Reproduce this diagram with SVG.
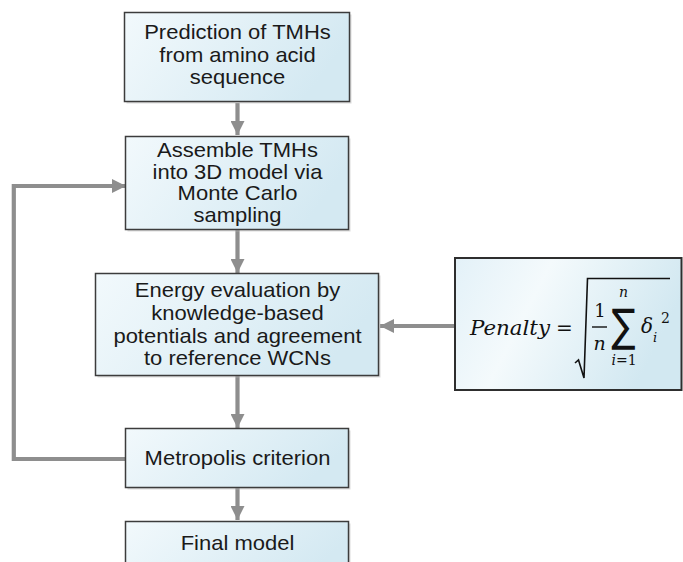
<svg xmlns="http://www.w3.org/2000/svg" width="683" height="562" viewBox="0 0 683 562">
<defs>
<linearGradient id="bf" x1="0" y1="0" x2="1" y2="0.3">
<stop offset="0" stop-color="#f2f9fc"/>
<stop offset="1" stop-color="#d4e9f2"/>
</linearGradient>
<linearGradient id="pf" x1="0" y1="0" x2="1" y2="0.3">
<stop offset="0" stop-color="#e3f1f8"/>
<stop offset="0.4" stop-color="#f4fafc"/>
<stop offset="1" stop-color="#d2e8f1"/>
</linearGradient>
<marker id="ah" viewBox="0 0 14 14" refX="14" refY="7" markerWidth="14" markerHeight="14" markerUnits="userSpaceOnUse" orient="auto">
<path d="M0,0 L14,7 L0,14 Z" fill="#8e8e8e"/>
</marker>
<style>
.box{fill:url(#bf);stroke:#3c3c3c;stroke-width:1.5}
.shadow{fill:#b8b8b8;opacity:0.5}
.lbl{font-family:"Liberation Sans",Arial,sans-serif;font-size:20px;fill:#1a1a1a;text-anchor:middle}
.conn{fill:none;stroke:#8e8e8e;stroke-width:4.2}
.m{font-family:"DejaVu Serif","Liberation Serif",serif;font-style:italic;fill:#111}
.mu{font-family:"DejaVu Serif","Liberation Serif",serif;fill:#111}
.sum{font-family:"DejaVu Sans",sans-serif;fill:#111;text-anchor:middle}
</style>
</defs>
<rect width="683" height="562" fill="#ffffff"/>
<g id="connectors">
<line class="conn" x1="237.5" y1="103" x2="237.5" y2="135" marker-end="url(#ah)"/>
<line class="conn" x1="237.5" y1="230" x2="237.5" y2="273" marker-end="url(#ah)"/>
<line class="conn" x1="237.5" y1="376" x2="237.5" y2="428" marker-end="url(#ah)"/>
<line class="conn" x1="237.5" y1="488" x2="237.5" y2="520" marker-end="url(#ah)"/>
<line class="conn" x1="455" y1="326" x2="380" y2="326" marker-end="url(#ah)"/>
<polyline class="conn" points="126,459 13.8,459 13.8,186 126,186" marker-end="url(#ah)"/>
</g>
<g id="node-prediction">
<rect class="shadow" x="126.5" y="14.5" width="225" height="89"/>
<rect class="box" x="124.5" y="12.5" width="225" height="89"/>
<text class="lbl" transform="translate(237.5 0) scale(1.1 1)"><tspan x="0" y="39.5">Prediction of TMHs</tspan><tspan x="0" y="62">from amino acid</tspan><tspan x="0" y="84.5">sequence</tspan></text>
</g>
<g id="node-assemble">
<rect class="shadow" x="127.5" y="138.5" width="223" height="93"/>
<rect class="box" x="125.5" y="136.5" width="223" height="93"/>
<text class="lbl" transform="translate(237.5 0) scale(1.1 1)"><tspan x="0" y="157.5">Assemble TMHs</tspan><tspan x="0" y="179">into 3D model via</tspan><tspan x="0" y="200.5">Monte Carlo</tspan><tspan x="0" y="222">sampling</tspan></text>
</g>
<g id="node-energy">
<rect class="shadow" x="97.5" y="275.5" width="283" height="102"/>
<rect class="box" x="95.5" y="273.5" width="283" height="102"/>
<text class="lbl" transform="translate(237.5 0) scale(1.1 1)"><tspan x="0" y="297.5">Energy evaluation by</tspan><tspan x="0" y="320.5">knowledge-based</tspan><tspan x="0" y="343">potentials and agreement</tspan><tspan x="0" y="365.5">to reference WCNs</tspan></text>
</g>
<g id="node-penalty">
<rect x="455" y="258" width="226.5" height="132" fill="url(#pf)" stroke="#2e2e2e" stroke-width="2"/>
<text class="m" x="470" y="335" font-size="20" textLength="80" lengthAdjust="spacingAndGlyphs">Penalty</text>
<text class="mu" x="556" y="335" font-size="20">=</text>
<polyline points="575,363 578.5,360 584,378 587.5,278.5 670,278.5" fill="none" stroke="#111" stroke-width="1.6" stroke-linejoin="miter"/>
<text class="mu" x="600" y="317" font-size="18" text-anchor="middle">1</text>
<line x1="592" y1="327" x2="607" y2="327" stroke="#111" stroke-width="1.4"/>
<text class="m" x="599.5" y="350" font-size="19" text-anchor="middle">n</text>
<text class="sum" font-size="45" transform="translate(623.5 340.5) scale(0.8 1)" x="0" y="0">∑</text>
<text class="m" x="623.5" y="296.5" font-size="14" text-anchor="middle">n</text>
<text x="624" y="365" font-size="14" text-anchor="middle"><tspan class="m">i</tspan><tspan class="mu">=1</tspan></text>
<text class="m" x="641" y="333" font-size="20">δ</text>
<text class="m" x="653" y="342" font-size="13">i</text>
<text class="mu" x="661" y="323" font-size="14">2</text>
</g>
<g id="node-metropolis">
<rect class="shadow" x="127.5" y="430.5" width="223" height="59"/>
<rect class="box" x="125.5" y="428.5" width="223" height="59"/>
<text class="lbl" transform="translate(237.5 0) scale(1.1 1)"><tspan x="0" y="465.5">Metropolis criterion</tspan></text>
</g>
<g id="node-final">
<rect class="shadow" x="127.5" y="523.5" width="223" height="60"/>
<rect class="box" x="125.5" y="521.5" width="223" height="60"/>
<text class="lbl" transform="translate(237.5 0) scale(1.1 1)"><tspan x="0" y="550">Final model</tspan></text>
</g>
</svg>
